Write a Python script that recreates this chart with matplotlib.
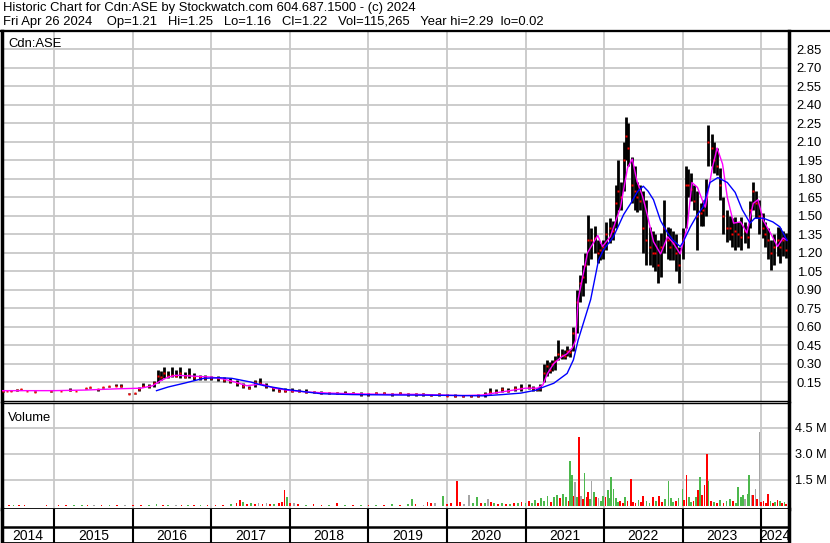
import matplotlib
matplotlib.use("Agg")
from matplotlib import pyplot as plt
from matplotlib.lines import Line2D

plt.rcParams['font.family'] = ['Liberation Sans', 'DejaVu Sans']

# price bars: decimal year, high, low, close
bar_year = [2014.35, 2014.40, 2014.45, 2014.52, 2014.58, 2014.65, 2014.75, 2014.95, 2015.08, 2015.20,
            2015.28, 2015.40, 2015.45, 2015.55, 2015.62, 2015.70, 2015.78, 2015.85, 2015.95, 2016.02,
            2016.08, 2016.13, 2016.20, 2016.27, 2016.32, 2016.36, 2016.40, 2016.45, 2016.50, 2016.55,
            2016.60, 2016.66, 2016.72, 2016.78, 2016.85, 2016.92, 2017.00, 2017.08, 2017.16, 2017.24,
            2017.32, 2017.40, 2017.48, 2017.56, 2017.62, 2017.70, 2017.78, 2017.86, 2017.94, 2018.03,
            2018.12, 2018.20, 2018.30, 2018.40, 2018.50, 2018.60, 2018.70, 2018.80, 2018.90, 2019.00,
            2019.10, 2019.20, 2019.30, 2019.40, 2019.50, 2019.60, 2019.70, 2019.80, 2019.90, 2020.00,
            2020.10, 2020.20, 2020.30, 2020.40, 2020.48, 2020.55, 2020.62, 2020.70, 2020.78, 2020.86,
            2020.94, 2021.04, 2021.09, 2021.14, 2021.19, 2021.23, 2021.27, 2021.31, 2021.34, 2021.38,
            2021.42, 2021.46, 2021.50, 2021.53, 2021.57, 2021.61, 2021.65, 2021.69, 2021.73, 2021.76,
            2021.80, 2021.84, 2021.88, 2021.92, 2021.95, 2021.99, 2022.03, 2022.07, 2022.11, 2022.15,
            2022.18, 2022.22, 2022.26, 2022.28, 2022.31, 2022.35, 2022.39, 2022.42, 2022.46, 2022.50,
            2022.54, 2022.58, 2022.62, 2022.65, 2022.69, 2022.73, 2022.77, 2022.81, 2022.84, 2022.88,
            2022.92, 2022.96, 2023.00, 2023.04, 2023.07, 2023.11, 2023.15, 2023.19, 2023.23, 2023.26,
            2023.30, 2023.33, 2023.37, 2023.40, 2023.44, 2023.48, 2023.52, 2023.56, 2023.60, 2023.63,
            2023.67, 2023.71, 2023.75, 2023.79, 2023.83, 2023.86, 2023.90, 2023.94, 2023.98, 2024.02,
            2024.05, 2024.09, 2024.13, 2024.17, 2024.21, 2024.24, 2024.28, 2024.32]
bar_hi = [0.08, 0.08, 0.085, 0.09, 0.09, 0.08, 0.075, 0.08, 0.08, 0.10,
          0.08, 0.105, 0.11, 0.09, 0.11, 0.12, 0.13, 0.135, 0.06, 0.06,
          0.11, 0.14, 0.13, 0.16, 0.25, 0.24, 0.27, 0.24, 0.27, 0.25,
          0.27, 0.23, 0.26, 0.22, 0.21, 0.21, 0.20, 0.20, 0.19, 0.18,
          0.17, 0.14, 0.12, 0.17, 0.18, 0.14, 0.11, 0.10, 0.10, 0.10,
          0.09, 0.09, 0.08, 0.08, 0.07, 0.07, 0.08, 0.07, 0.07, 0.06,
          0.07, 0.07, 0.06, 0.07, 0.06, 0.06, 0.06, 0.05, 0.06, 0.05,
          0.05, 0.045, 0.045, 0.05, 0.07, 0.10, 0.09, 0.11, 0.10, 0.12,
          0.13, 0.13, 0.12, 0.10, 0.13, 0.30, 0.33, 0.31, 0.33, 0.36,
          0.49, 0.42, 0.41, 0.44, 0.42, 0.60, 0.90, 1.02, 1.10, 1.20,
          1.51, 1.40, 1.42, 1.30, 1.28, 1.30, 1.45, 1.48, 1.46, 1.75,
          1.95, 1.77, 2.10, 2.30, 2.25, 1.98, 1.90, 1.77, 1.75, 1.70,
          1.63, 1.41, 1.38, 1.35, 1.30, 1.36, 1.63, 1.41, 1.40, 1.38,
          1.35, 1.25, 1.40, 1.90, 1.88, 1.85, 1.75, 1.70, 1.60, 1.63,
          1.80, 2.24, 2.16, 2.10, 2.05, 1.89, 1.65, 1.55, 1.50, 1.48,
          1.49, 1.45, 1.49, 1.45, 1.42, 1.62, 1.77, 1.70, 1.63, 1.52,
          1.45, 1.40, 1.30, 1.35, 1.41, 1.40, 1.38, 1.36]
bar_lo = [0.07, 0.08, 0.075, 0.08, 0.085, 0.075, 0.07, 0.07, 0.075, 0.08,
          0.075, 0.095, 0.10, 0.08, 0.105, 0.11, 0.12, 0.11, 0.05, 0.055,
          0.08, 0.11, 0.10, 0.11, 0.14, 0.17, 0.18, 0.18, 0.19, 0.19,
          0.18, 0.18, 0.18, 0.17, 0.17, 0.17, 0.17, 0.16, 0.15, 0.14,
          0.12, 0.10, 0.09, 0.11, 0.13, 0.10, 0.08, 0.07, 0.07, 0.07,
          0.07, 0.06, 0.06, 0.05, 0.05, 0.05, 0.05, 0.05, 0.04, 0.04,
          0.05, 0.05, 0.04, 0.05, 0.04, 0.04, 0.04, 0.04, 0.04, 0.035,
          0.03, 0.03, 0.03, 0.03, 0.03, 0.05, 0.06, 0.07, 0.07, 0.08,
          0.08, 0.09, 0.08, 0.08, 0.08, 0.15, 0.20, 0.22, 0.24, 0.25,
          0.33, 0.34, 0.34, 0.36, 0.35, 0.40, 0.55, 0.80, 0.85, 0.95,
          1.10, 1.15, 1.20, 1.12, 1.14, 1.15, 1.22, 1.28, 1.30, 1.40,
          1.55, 1.55, 1.70, 1.95, 1.90, 1.60, 1.55, 1.53, 1.55, 1.20,
          1.10, 1.10, 1.08, 1.05, 0.95, 1.00, 1.20, 1.15, 1.14, 1.14,
          1.05, 0.95, 1.15, 1.40, 1.65, 1.62, 1.55, 1.22, 1.42, 1.42,
          1.50, 1.90, 1.90, 1.85, 1.83, 1.63, 1.35, 1.29, 1.30, 1.25,
          1.22, 1.25, 1.22, 1.28, 1.24, 1.40, 1.55, 1.48, 1.35, 1.32,
          1.25, 1.15, 1.06, 1.10, 1.17, 1.12, 1.17, 1.16]
bar_cl = [0.075, 0.08, 0.08, 0.085, 0.09, 0.075, 0.07, 0.075, 0.08, 0.085,
          0.08, 0.10, 0.11, 0.09, 0.11, 0.115, 0.12, 0.12, 0.055, 0.06,
          0.09, 0.12, 0.12, 0.14, 0.20, 0.19, 0.22, 0.20, 0.21, 0.20,
          0.22, 0.19, 0.21, 0.19, 0.19, 0.18, 0.18, 0.18, 0.17, 0.16,
          0.14, 0.12, 0.10, 0.15, 0.14, 0.12, 0.10, 0.08, 0.08, 0.08,
          0.08, 0.07, 0.07, 0.06, 0.06, 0.06, 0.06, 0.06, 0.05, 0.05,
          0.06, 0.06, 0.05, 0.06, 0.05, 0.05, 0.05, 0.045, 0.05, 0.04,
          0.04, 0.035, 0.035, 0.04, 0.05, 0.07, 0.07, 0.09, 0.08, 0.10,
          0.10, 0.11, 0.10, 0.09, 0.10, 0.22, 0.28, 0.25, 0.30, 0.32,
          0.38, 0.37, 0.36, 0.40, 0.39, 0.55, 0.80, 0.95, 1.00, 1.10,
          1.30, 1.30, 1.32, 1.20, 1.22, 1.25, 1.35, 1.40, 1.38, 1.60,
          1.70, 1.65, 1.95, 2.15, 2.05, 1.75, 1.70, 1.65, 1.62, 1.40,
          1.30, 1.25, 1.20, 1.20, 1.10, 1.25, 1.40, 1.30, 1.25, 1.28,
          1.20, 1.10, 1.30, 1.75, 1.75, 1.72, 1.62, 1.50, 1.52, 1.55,
          1.65, 2.10, 2.05, 1.95, 1.90, 1.75, 1.50, 1.40, 1.40, 1.35,
          1.38, 1.35, 1.33, 1.38, 1.33, 1.55, 1.70, 1.60, 1.50, 1.40,
          1.35, 1.30, 1.20, 1.25, 1.30, 1.25, 1.30, 1.22]

# short moving average (magenta)
ma_s_year = [2014.34, 2014.6, 2015.0, 2015.4, 2015.8, 2016.1, 2016.25, 2016.35, 2016.45, 2016.55,
             2016.7, 2016.85, 2017.0, 2017.15, 2017.3, 2017.45, 2017.58, 2017.66, 2017.8, 2017.95,
             2018.2, 2018.5, 2018.8, 2019.2, 2019.6, 2019.9, 2020.2, 2020.45, 2020.6, 2020.8,
             2021.0, 2021.15, 2021.22, 2021.28, 2021.36, 2021.45, 2021.53, 2021.60, 2021.64, 2021.67,
             2021.79, 2021.92, 2021.98, 2022.08, 2022.21, 2022.30, 2022.36, 2022.42, 2022.49, 2022.55,
             2022.63, 2022.72, 2022.81, 2022.88, 2022.97, 2023.06, 2023.12, 2023.19, 2023.25, 2023.29,
             2023.38, 2023.44, 2023.51, 2023.57, 2023.65, 2023.74, 2023.82, 2023.90, 2023.96, 2024.03,
             2024.12, 2024.21, 2024.28, 2024.33]
ma_s = [0.08, 0.08, 0.08, 0.085, 0.095, 0.10, 0.12, 0.16, 0.19, 0.205,
        0.20, 0.195, 0.19, 0.175, 0.15, 0.12, 0.13, 0.13, 0.10, 0.085,
        0.07, 0.06, 0.055, 0.05, 0.05, 0.045, 0.04, 0.045, 0.06, 0.08,
        0.10, 0.10, 0.125, 0.22, 0.30, 0.35, 0.38, 0.43, 0.49, 0.82,
        1.20, 1.34, 1.25, 1.33, 1.57, 1.89, 1.96, 1.78, 1.66, 1.51,
        1.29, 1.19, 1.33, 1.28, 1.19, 1.41, 1.77, 1.73, 1.63, 1.57,
        1.89, 2.05, 1.92, 1.65, 1.44, 1.45, 1.36, 1.60, 1.63, 1.46,
        1.36, 1.25, 1.32, 1.30]

# long moving average (blue)
ma_l_year = [2016.30, 2016.45, 2016.65, 2016.9, 2017.1, 2017.26, 2017.5, 2017.67, 2017.95, 2018.2,
             2018.4, 2018.8, 2019.3, 2019.8, 2020.2, 2020.46, 2020.7, 2020.94, 2021.14, 2021.19,
             2021.36, 2021.53, 2021.61, 2021.67, 2021.83, 2021.93, 2021.99, 2022.12, 2022.25, 2022.34,
             2022.43, 2022.50, 2022.56, 2022.63, 2022.72, 2022.81, 2022.88, 2022.97, 2023.01, 2023.10,
             2023.19, 2023.26, 2023.35, 2023.45, 2023.57, 2023.67, 2023.76, 2023.86, 2023.92, 2024.03,
             2024.15, 2024.24, 2024.33]
ma_l = [0.08, 0.11, 0.14, 0.18, 0.185, 0.18, 0.15, 0.12, 0.09, 0.07,
        0.055, 0.048, 0.045, 0.043, 0.04, 0.038, 0.048, 0.06, 0.085, 0.10,
        0.14, 0.22, 0.33, 0.49, 0.82, 1.14, 1.22, 1.33, 1.51, 1.60,
        1.70, 1.74, 1.70, 1.63, 1.46, 1.36, 1.30, 1.25, 1.29, 1.41,
        1.51, 1.57, 1.77, 1.81, 1.77, 1.69, 1.55, 1.44, 1.48, 1.48,
        1.45, 1.41, 1.30]

# volume (millions), colour code: r=down, g=up, k=unchanged
vol_year = [2014.35, 2014.42, 2014.48, 2014.55, 2014.62, 2014.90, 2015.05, 2015.15, 2015.25, 2015.35,
            2015.42, 2015.50, 2015.60, 2015.70, 2015.80, 2015.90, 2016.00, 2016.10, 2016.20, 2016.30,
            2016.38, 2016.45, 2016.55, 2016.62, 2016.70, 2016.78, 2016.86, 2016.95, 2017.05, 2017.15,
            2017.25, 2017.32, 2017.36, 2017.40, 2017.45, 2017.50, 2017.55, 2017.60, 2017.65, 2017.70,
            2017.75, 2017.80, 2017.86, 2017.90, 2017.93, 2017.96, 2018.00, 2018.05, 2018.10, 2018.20,
            2018.30, 2018.40, 2018.50, 2018.60, 2018.70, 2018.80, 2018.90, 2019.00, 2019.10, 2019.20,
            2019.30, 2019.40, 2019.50, 2019.55, 2019.60, 2019.70, 2019.75, 2019.80, 2019.85, 2019.95,
            2020.00, 2020.05, 2020.13, 2020.17, 2020.22, 2020.28, 2020.33, 2020.38, 2020.43, 2020.48,
            2020.52, 2020.56, 2020.60, 2020.65, 2020.70, 2020.75, 2020.80, 2020.85, 2020.90, 2020.95,
            2021.00, 2021.04, 2021.08, 2021.12, 2021.16, 2021.20, 2021.24, 2021.28, 2021.32, 2021.36,
            2021.40, 2021.44, 2021.48, 2021.52, 2021.55, 2021.57, 2021.59, 2021.61, 2021.63, 2021.66,
            2021.68, 2021.71, 2021.73, 2021.75, 2021.78, 2021.80, 2021.82, 2021.84, 2021.87, 2021.90,
            2021.93, 2021.96, 2021.99, 2022.02, 2022.05, 2022.07, 2022.09, 2022.12, 2022.15, 2022.18,
            2022.20, 2022.24, 2022.27, 2022.30, 2022.34, 2022.37, 2022.40, 2022.44, 2022.47, 2022.50,
            2022.54, 2022.58, 2022.62, 2022.66, 2022.70, 2022.74, 2022.78, 2022.82, 2022.85, 2022.88,
            2022.92, 2022.95, 2023.00, 2023.02, 2023.05, 2023.08, 2023.11, 2023.14, 2023.17, 2023.20,
            2023.22, 2023.25, 2023.28, 2023.31, 2023.33, 2023.36, 2023.40, 2023.44, 2023.48, 2023.52,
            2023.56, 2023.60, 2023.64, 2023.68, 2023.71, 2023.74, 2023.77, 2023.80, 2023.83, 2023.85,
            2023.88, 2023.90, 2023.93, 2023.95, 2023.98, 2024.00, 2024.03, 2024.06, 2024.09, 2024.12,
            2024.15, 2024.18, 2024.21, 2024.24, 2024.27, 2024.30, 2024.32]
vol_m = [0.05, 0.04, 0.06, 0.03, 0.04, 0.03, 0.04, 0.06, 0.05, 0.08,
         0.05, 0.06, 0.05, 0.04, 0.07, 0.05, 0.04, 0.05, 0.06, 0.09,
         0.07, 0.08, 0.06, 0.07, 0.08, 0.06, 0.07, 0.05, 0.06, 0.08,
         0.10, 0.20, 0.37, 0.25, 0.12, 0.20, 0.10, 0.15, 0.10, 0.20,
         0.12, 0.10, 0.18, 0.25, 0.90, 0.50, 0.15, 0.20, 0.10, 0.08,
         0.10, 0.06, 0.08, 0.17, 0.07, 0.08, 0.06, 0.08, 0.06, 0.07,
         0.10, 0.08, 0.10, 0.42, 0.10, 0.08, 0.22, 0.15, 0.18, 0.60,
         0.10, 0.15, 1.46, 0.25, 0.10, 0.65, 0.15, 0.50, 0.20, 0.15,
         0.40, 0.25, 0.15, 0.10, 0.20, 0.12, 0.10, 0.20, 0.15, 0.25,
         0.20, 0.30, 0.15, 0.35, 0.20, 0.45, 0.30, 0.60, 0.25, 0.50,
         0.65, 0.45, 0.70, 0.50, 0.30, 2.58, 1.80, 0.60, 1.40, 0.50,
         3.96, 0.60, 0.40, 1.90, 0.50, 0.80, 0.40, 1.46, 0.80, 0.50,
         0.45, 0.30, 0.60, 0.50, 0.90, 0.45, 1.70, 1.00, 0.45, 0.25,
         0.30, 0.20, 0.50, 0.30, 1.56, 0.25, 0.20, 0.35, 0.25, 0.60,
         0.30, 0.20, 0.50, 0.30, 0.60, 0.25, 0.40, 1.46, 0.45, 0.25,
         0.30, 0.45, 1.00, 0.35, 1.77, 0.50, 0.25, 0.30, 0.50, 0.90,
         1.65, 0.65, 1.20, 3.00, 1.46, 0.30, 0.25, 0.20, 0.35, 0.20,
         0.30, 0.40, 0.30, 0.20, 1.08, 0.50, 0.65, 0.40, 0.70, 1.80,
         0.65, 0.65, 1.00, 0.40, 4.25, 0.25, 0.30, 0.20, 0.70, 0.30,
         0.20, 0.25, 0.35, 0.30, 0.20, 0.25, 0.12]
vol_dir = ("rrgrrrrrgg" "rkrgrkrrgg" "rgkrgrgrrr" "grrgrgrkrk" "rgrrrgrkrg"
           "rrgrgrgrgr" "grggrkrrkg" "rrrrkkggrg" "krgrgrgrgr" "grggrgggrg"
           "grggrggrkg" "rkrgrrgkgr" "kggrgggggg" "rrgrrrrgrr" "ggrgrrgggg"
           "rggrrggrgr" "grrrgrgrgr" "ggrggggkgg" "krkrkrrrrg" "rgrgrgr")

fig = plt.figure(figsize=(8.3, 5.43), dpi=100)
W, H = 830.0, 543.0


def fx(x):
    return x / W


def fy(y):
    return 1 - y / H


x0, x1 = 2014.332, 2024.356
year_edges = list(range(2015, 2025))
grid_c = '#c8c8c8'
fs = 9.4

# price panel
ax = fig.add_axes([fx(2), fy(401), fx(789) - fx(2), fy(31) - fy(401)])
ax.set_xlim(x0, x1)
ax.set_ylim(-0.004, 3.0)
ticks = [round(0.15 * i, 2) for i in range(1, 20)]
ax.set_yticks(ticks)
ax.set_yticklabels(['%.2f' % t for t in ticks])
ax.yaxis.tick_right()
ax.tick_params(axis='y', length=0, pad=5.5, labelsize=fs)
ax.set_xticks(year_edges)
ax.tick_params(axis='x', length=0, labelbottom=False)
ax.grid(True, color=grid_c, lw=1.3)
ax.set_axisbelow(True)
ax.vlines(bar_year, bar_lo, bar_hi, color='black', lw=2.0, zorder=2)
ax.plot(bar_year, bar_cl, ls='none', marker='s', ms=1.8, mec='none', color='red', zorder=3)
ax.plot(ma_s_year, ma_s, color='#ff00ff', lw=1.0, zorder=4)
ax.plot(ma_l_year, ma_l, color='#0000ff', lw=1.0, zorder=4)
ax.spines['left'].set_linewidth(2.5)
ax.spines['right'].set_linewidth(2.5)
ax.spines['top'].set_linewidth(1.5)
ax.spines['bottom'].set_linewidth(1.0)
ax.text(0.008, 0.965, 'Cdn:ASE', transform=ax.transAxes, fontsize=fs, va='center')

# volume panel
vc = {'r': '#ff0000', 'g': '#4cb84c', 'k': '#a6a6a6'}
av = fig.add_axes([fx(2), fy(509), fx(789) - fx(2), fy(403) - fy(509)])
av.set_xlim(x0, x1)
av.set_ylim(-0.173, 5.94)
av.set_yticks([1.5, 3.0, 4.5])
av.set_yticklabels(['1.5 M', '3.0 M', '4.5 M'])
av.yaxis.tick_right()
av.tick_params(axis='y', length=0, pad=4, labelsize=9.2)
av.set_xticks(year_edges)
av.tick_params(axis='x', length=0, labelbottom=False)
av.grid(True, color=grid_c, lw=1.3)
av.set_axisbelow(True)
av.bar(vol_year, vol_m, width=0.022, color=[vc[c] for c in vol_dir], zorder=2)
av.spines['left'].set_linewidth(2.5)
av.spines['right'].set_linewidth(2.5)
av.spines['top'].set_linewidth(1.0)
av.spines['bottom'].set_linewidth(2.0)
av.text(0.007, 0.86, 'Volume', transform=av.transAxes, fontsize=fs, va='center')

# year strip
ay = fig.add_axes([fx(2), 0, fx(789) - fx(2), fy(509)])
ay.set_xlim(x0, x1)
ay.set_ylim(0, 34)
ay.set_xticks([])
ay.set_yticks([])
ay.axhline(16, color='black', lw=1.8)
ay.vlines(year_edges, 0, 34, color='black', lw=1.5)
for spn in ['left', 'right']:
    ay.spines[spn].set_linewidth(2.5)
ay.spines['bottom'].set_linewidth(2.0)
ay.spines['top'].set_visible(False)
labels = list(range(2014, 2025))
edges = [x0] + year_edges + [x1]
for i, yr in enumerate(labels):
    ay.text((edges[i] + edges[i + 1]) / 2, 7.5, str(yr), ha='center', va='center', fontsize=10)

# header
fig.add_artist(Line2D([0, 1], [fy(31), fy(31)], color='black', lw=1.6))
fig.text(fx(3), fy(7.5), 'Historic Chart for Cdn:ASE by Stockwatch.com 604.687.1500 - (c) 2024',
         fontsize=9.4, va='center')
fig.text(fx(3), fy(22.5), 'Fri Apr 26 2024    Op=1.21   Hi=1.25   Lo=1.16   Cl=1.22   Vol=115,265   Year hi=2.29  lo=0.02',
         fontsize=9.4, va='center')

fig.savefig('out.png', dpi=100)
